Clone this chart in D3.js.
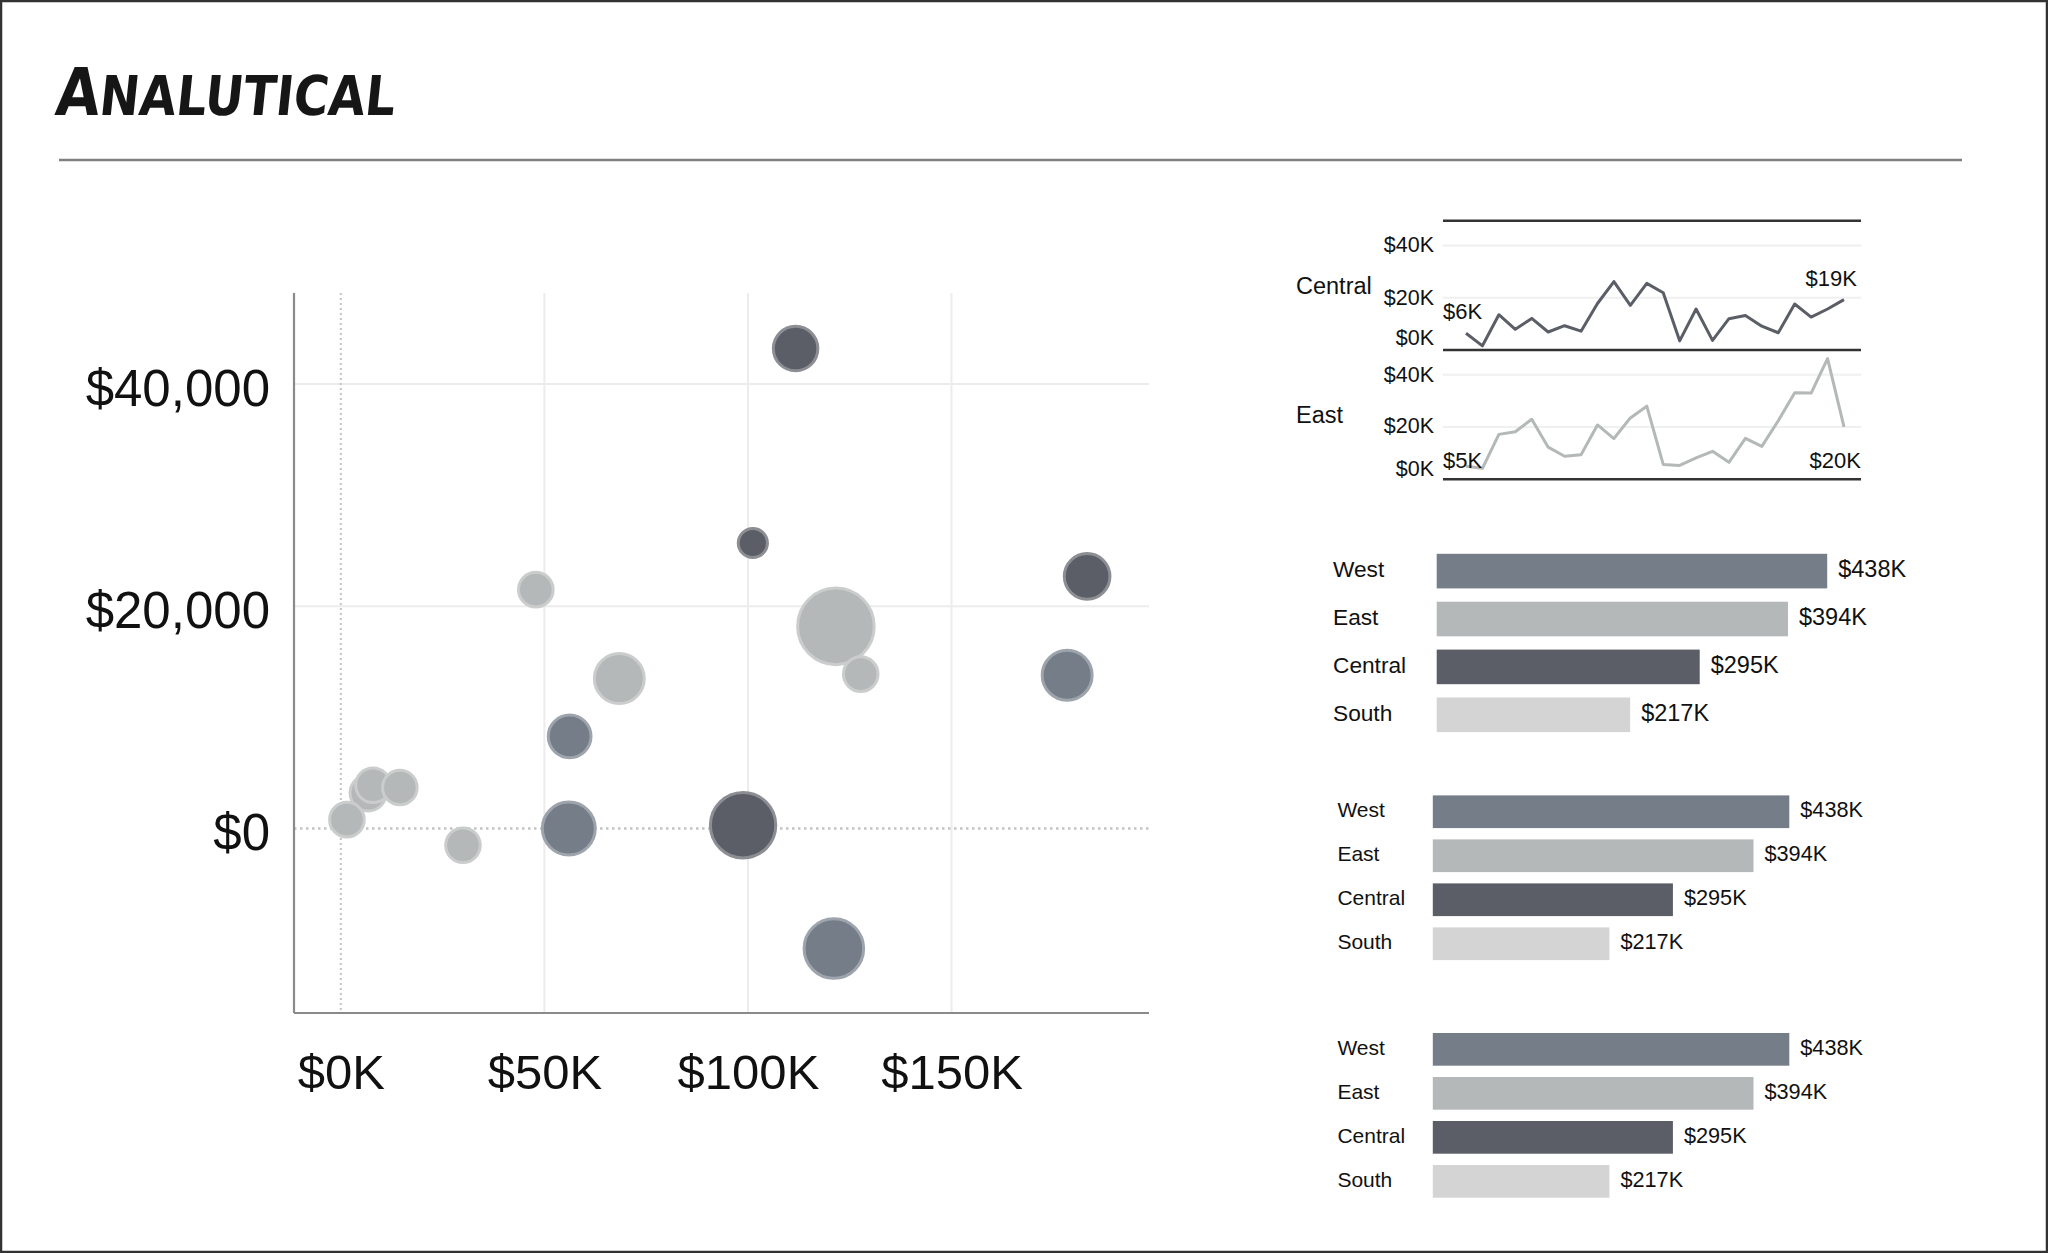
<!DOCTYPE html>
<html>
<head>
<meta charset="utf-8">
<script src="https://cdn.jsdelivr.net/npm/d3@7"></script>
<style>
  html, body { margin: 0; padding: 0; background: #fff; }
  svg { display: block; }
  text { font-family: "Liberation Sans", "DejaVu Sans", sans-serif; fill: #111; }
</style>
</head>
<body>
<script>
// ---------------- DATA ----------------
const regions = ["West", "East", "Central", "South"];
const regionSales = [438, 394, 295, 217]; // $K

// scatter (bubble) data: sales ($K) on x, profit ($) on y, size = quantity
const bubbleRegion = ["Central","Central","Central","East","East","East","East","West","West",
                      "East","East","East","East","East","West","Central","West"];
const bubbleSales  = [111.7, 101.2, 183.3, 47.9, 121.6, 127.7, 68.4, 178.4, 56.2,
                      6.7, 7.9, 14.5, 1.5, 30.0, 56.0, 98.8, 121.1];
const bubbleProfit = [43200, 25700, 22700, 21500, 18200, 13900, 13500, 13800, 8300,
                      3200, 3900, 3700, 800, -1500, 0, 300, -10800];
const bubbleSize   = [83, 38, 87, 52, 233, 52, 103, 103, 77,
                      56, 52, 52, 52, 52, 115, 172, 144];

const scatterXTicks = [0, 50, 100, 150];          // $K
const scatterYTicks = [0, 20000, 40000];

// monthly sales sparklines ($K)
const centralMonthly = [6.4, 1.6, 13.5, 7.9, 12.1, 6.9, 9.3, 7.2, 17.8, 26.2, 17.1, 25.5,
                        21.9, 3.5, 15.7, 3.7, 12.0, 13.2, 9.1, 6.6, 17.6, 12.6, 15.7, 19.3];
const eastMonthly    = [5.0, 4.2, 17.2, 18.2, 23.0, 12.3, 8.8, 9.4, 20.8, 15.6, 23.5, 28.0,
                        5.7, 5.3, 8.2, 10.7, 6.5, 15.7, 12.6, 22.4, 33.1, 33.0, 46.2, 20.1];
const lineTicks = [0, 20, 40]; // $K

// ---------------- STYLE ----------------
const colors = { West: "#757d89", East: "#b4b8b8", Central: "#5b5e66", South: "#d4d4d4" };

const W = 2048, H = 1253;
const svg = d3.select("body").append("svg").attr("width", W).attr("height", H);

// border
svg.append("rect").attr("x", 1).attr("y", 1).attr("width", W - 2).attr("height", H - 2)
  .attr("fill", "none").attr("stroke", "#333").attr("stroke-width", 2.5);

// title
const title = svg.append("text").attr("x", 54).attr("y", 115)
  .attr("textLength", 340).attr("lengthAdjust", "spacingAndGlyphs")
  .style("font-family", "'DejaVu Sans', sans-serif").style("font-weight", "900")
  .attr("transform", "skewX(-6) translate(12,0)").style("fill", "#161616");
title.append("tspan").style("font-size", "66px").text("A");
title.append("tspan").style("font-size", "55px").text("NALUTICAL");

// rule
svg.append("line").attr("x1", 59).attr("x2", 1962).attr("y1", 160).attr("y2", 160)
  .attr("stroke", "#808080").attr("stroke-width", 2.5);

// ---------------- SCATTER ----------------
const sx = d3.scaleLinear().domain([-11.5, 198.5]).range([294, 1149]);
const sy = d3.scaleLinear().domain([-16600, 48200]).range([1013, 293]);
const sr = d3.scaleSqrt().domain([0, 233]).range([0, 39.8]);

const sc = svg.append("g");
// gridlines
sc.selectAll(".vg").data(scatterXTicks.filter(d => d !== 0)).join("line")
  .attr("x1", d => sx(d)).attr("x2", d => sx(d)).attr("y1", sy.range()[1]).attr("y2", sy.range()[0])
  .attr("stroke", "#ececec").attr("stroke-width", 2);
sc.selectAll(".hg").data(scatterYTicks.filter(d => d !== 0)).join("line")
  .attr("x1", sx.range()[0]).attr("x2", sx.range()[1]).attr("y1", d => sy(d)).attr("y2", d => sy(d))
  .attr("stroke", "#ececec").attr("stroke-width", 2);
// zero lines (dotted)
sc.append("line").attr("x1", sx(0)).attr("x2", sx(0)).attr("y1", sy.range()[1]).attr("y2", sy.range()[0])
  .attr("stroke", "#c4c4c4").attr("stroke-width", 2).attr("stroke-dasharray", "2,3");
sc.append("line").attr("x1", sx.range()[0]).attr("x2", sx.range()[1]).attr("y1", sy(0)).attr("y2", sy(0))
  .attr("stroke", "#c4c4c4").attr("stroke-width", 2.5).attr("stroke-dasharray", "2.5,3.5");

// axes
const xAxis = d3.axisBottom(sx).tickValues(scatterXTicks).tickSize(0).tickPadding(41)
  .tickFormat(d => "$" + d + "K");
const yAxis = d3.axisLeft(sy).tickValues(scatterYTicks).tickSize(0).tickPadding(24)
  .tickFormat(d => "$" + d3.format(",")(d));
const gx = sc.append("g").attr("transform", `translate(0,${sy.range()[0]})`).call(xAxis);
const gy = sc.append("g").attr("transform", `translate(${sx.range()[0]},0)`).call(yAxis);
[gx, gy].forEach(g => {
  g.select(".domain").attr("stroke", "#8a8a8a").attr("stroke-width", 2.2);
  g.selectAll("text").style("fill", "#111")
    .style("font-family", "'Liberation Sans', sans-serif");
});
gx.selectAll("text").style("font-size", "49px");
gy.selectAll("text").style("font-size", "51px").attr("dy", "0.42em");
gx.select(".domain").attr("d", `M${sx.range()[0]},0H${sx.range()[1]}`);
gy.select(".domain").attr("d", `M0,${sy.range()[1]}V${sy.range()[0]}`);
gx.selectAll("text").attr("dy", "0.71em");

// bubbles
const bubbles = bubbleSales.map((s, i) => ({ region: bubbleRegion[i], x: s, y: bubbleProfit[i], size: bubbleSize[i] }));
sc.selectAll("circle").data(bubbles).join("circle")
  .attr("cx", d => sx(d.x)).attr("cy", d => sy(d.y)).attr("r", d => sr(d.size) - 1.5)
  .attr("fill", d => colors[d.region])
  .attr("stroke", d => d3.interpolateRgb(colors[d.region], "#ffffff")(0.3))
  .attr("stroke-width", 3);

// ---------------- SPARKLINES ----------------
const lx = d3.scaleLinear().domain([0, centralMonthly.length - 1]).range([1466, 1844]);
const panels = [
  { name: "Central", values: centralMonthly, base: 350, top: 220.7, color: colors.Central, labelY: 287.3,
    tickDy: { 0: -10.5, 20: 1.5, 40: 1.3 }, startLab: { x: 1443, dy: -20 }, endLab: { x: 1857, dy: -19 } },
  { name: "East", values: eastMonthly, base: 479.3, top: 350, color: colors.East, labelY: 416.6,
    tickDy: { 0: -8.5, 20: 0, 40: 1.2 }, startLab: { x: 1443, dy: -4 }, endLab: { x: 1861, dy: 35.6 } }
];
const lineG = svg.append("g");
panels.forEach(p => {
  const ly = d3.scaleLinear().domain([0, 49.5]).range([p.base, p.top]);
  const g = lineG.append("g");
  g.selectAll(".grid").data(lineTicks.filter(d => d > 0)).join("line")
    .attr("x1", 1443).attr("x2", 1861).attr("y1", d => ly(d)).attr("y2", d => ly(d))
    .attr("stroke", "#f0f0f0").attr("stroke-width", 2);
  g.selectAll(".tl").data(lineTicks).join("text")
    .attr("x", 1434).attr("y", d => ly(d) + p.tickDy[d]).attr("text-anchor", "end")
    .attr("dominant-baseline", "middle").style("font-size", "21.5px")
    .text(d => "$" + d + "K");
  g.append("text").attr("x", 1296).attr("y", p.labelY).attr("dominant-baseline", "middle")
    .style("font-size", "23.5px").text(p.name);
  g.append("path").datum(p.values)
    .attr("d", d3.line().x((d, i) => lx(i)).y(d => ly(d)))
    .attr("fill", "none").attr("stroke", p.color).attr("stroke-width", 3).attr("stroke-linejoin", "round");
  const n = p.values.length;
  g.append("text").attr("x", p.startLab.x).attr("y", ly(p.values[0]) + p.startLab.dy)
    .attr("dominant-baseline", "middle").style("font-size", "22px")
    .text("$" + Math.round(p.values[0]) + "K");
  g.append("text").attr("x", p.endLab.x).attr("y", ly(p.values[n - 1]) + p.endLab.dy)
    .attr("text-anchor", "end").attr("dominant-baseline", "middle").style("font-size", "22px")
    .text("$" + Math.round(p.values[n - 1]) + "K");
  g.append("line").attr("x1", 1443).attr("x2", 1861).attr("y1", p.base).attr("y2", p.base)
    .attr("stroke", "#333").attr("stroke-width", 2.5);
});
lineG.append("line").attr("x1", 1443).attr("x2", 1861).attr("y1", 220.7).attr("y2", 220.7)
  .attr("stroke", "#333").attr("stroke-width", 2.5);

// ---------------- BAR CHARTS ----------------
const barSets = [
  { x0: 1436.7, maxW: 390.5, top: 553.8, step: 47.9, h: 34.6, labelX: 1333, font: 22.7, vfont: 23.5 },
  { x0: 1432.8, maxW: 356.5, top: 795.4, step: 44, h: 32.7, labelX: 1337.4, font: 21, vfont: 21.7 },
  { x0: 1432.8, maxW: 356.5, top: 1033, step: 44, h: 32.7, labelX: 1337.4, font: 21, vfont: 21.7 }
];
const barData = regions.map((r, i) => ({ region: r, value: regionSales[i] }));
barSets.forEach(b => {
  const bx = d3.scaleLinear().domain([0, 438]).range([b.x0, b.x0 + b.maxW]);
  const pad = (b.step - b.h) / b.step;
  const by = d3.scaleBand().domain(regions)
    .range([b.top, b.top + b.step * (regions.length - 1) + b.h])
    .paddingInner(pad).paddingOuter(0).align(0);
  const g = svg.append("g");
  g.selectAll("rect").data(barData).join("rect")
    .attr("x", bx(0)).attr("y", d => by(d.region))
    .attr("width", d => bx(d.value) - bx(0)).attr("height", by.bandwidth())
    .attr("fill", d => colors[d.region]);
  g.selectAll(".cat").data(barData).join("text")
    .attr("x", b.labelX).attr("y", d => by(d.region) + by.bandwidth() / 2).attr("dominant-baseline", "middle")
    .style("font-size", b.font + "px").text(d => d.region);
  g.selectAll(".val").data(barData).join("text")
    .attr("x", d => bx(d.value) + 11).attr("y", d => by(d.region) + by.bandwidth() / 2).attr("dominant-baseline", "middle")
    .style("font-size", b.vfont + "px").text(d => "$" + d.value + "K");
});
</script>
</body>
</html>
